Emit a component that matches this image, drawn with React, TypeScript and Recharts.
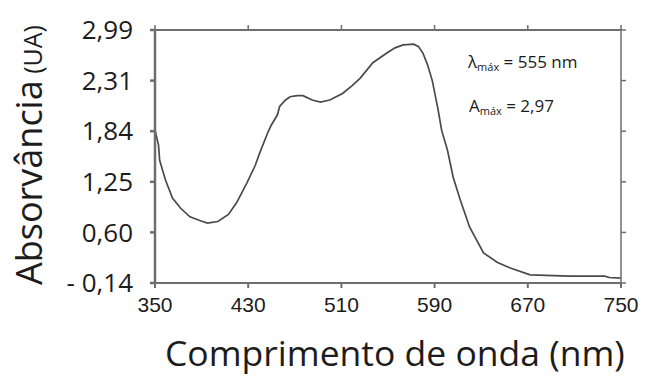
import React from 'react';
import { LineChart, Line, XAxis, YAxis, Customized } from 'recharts';

// Wavelength (nm) and absorbance (UA)
const wavelengthNm = [
  350, 353, 354, 359, 365, 372, 380, 389, 395, 404, 413, 420, 429, 436, 440, 447, 450,
  455, 457, 462, 466, 472, 477, 485, 492, 500, 511, 519, 526, 537, 549, 556, 563, 572,
  576, 580, 584, 588, 593, 596, 601, 606, 612, 620, 632, 644, 655, 672, 706, 736, 740, 750,
];
const absorbanceUA = [
  1.85, 1.68, 1.5, 1.27, 1.04, 0.91, 0.8, 0.75, 0.72, 0.74, 0.83, 0.98, 1.24, 1.44, 1.59, 1.83, 1.9,
  1.99, 2.07, 2.13, 2.16, 2.17, 2.17, 2.13, 2.11, 2.13, 2.19, 2.26, 2.34, 2.55, 2.68, 2.75, 2.79, 2.8,
  2.77, 2.68, 2.52, 2.31, 2.04, 1.85, 1.62, 1.3, 1.02, 0.67, 0.3, 0.16, 0.08, -0.02, -0.04, -0.04, -0.06, -0.07,
];

const xTickValues = [350, 430, 510, 590, 670, 750];
// The printed absorbance axis has evenly spaced ticks carrying these values
const yTickValues = [-0.14, 0.6, 1.25, 1.84, 2.31, 2.99];
const yTickLabels = ['- 0,14', '0,60', '1,25', '1,84', '2,31', '2,99'];
const yTickSlots = [0, 1, 2, 3, 4, 5];

// map an absorbance value onto the (piecewise) printed axis
function toAxis(v: number): number {
  for (let i = 0; i < yTickValues.length - 1; i++) {
    const a = yTickValues[i];
    const b = yTickValues[i + 1];
    if (v <= b || i === yTickValues.length - 2) {
      return i + (v - a) / (b - a);
    }
  }
  return 0;
}

const data = wavelengthNm.map((w, i) => ({ w, a: toAxis(absorbanceUA[i]) }));

const frame = '#6e6e6e';
const textColor = '#1c1c1c';
const titleFont = "'Open Sans', 'Noto Sans', sans-serif";
const tickFontX = "'Liberation Sans Narrow', 'Liberation Sans', Arial, sans-serif";

const Titles = () => (
  <g>
    <text
      transform="translate(42,285) rotate(-90)"
      fontFamily={titleFont}
      fontSize={36}
      fill={textColor}
    >
      Absorvância<tspan fontSize={25}> (UA)</tspan>
    </text>
    <text x={165} y={366} fontFamily={titleFont} fontSize={35.5} fill={textColor}>
      Comprimento de onda (nm)
    </text>
    <text x={468} y={68} fontFamily={titleFont} fontSize={17} fill={textColor}>
      λ<tspan fontSize={11} dy={3}>máx</tspan>
      <tspan dy={-3}> = 555 nm</tspan>
    </text>
    <text x={469} y={112} fontFamily={titleFont} fontSize={17} fill={textColor}>
      A<tspan fontSize={11} dy={3}>máx</tspan>
      <tspan dy={-3}> = 2,97</tspan>
    </text>
  </g>
);

const NoLabel = () => <g />;

export default function App() {
  return (
    <div style={{ position: 'absolute', left: 0, top: 0, background: '#fff' }}>
      <LineChart
        width={659}
        height={376}
        data={data}
        margin={{ top: 20, right: 0, bottom: 0, left: 0 }}
      >
        <XAxis
          xAxisId="b"
          dataKey="w"
          type="number"
          domain={[350, 750]}
          ticks={xTickValues}
          allowDataOverflow
          height={93}
          tickSize={5}
          tickMargin={9}
          axisLine={{ stroke: frame, strokeWidth: 2 }}
          tickLine={{ stroke: frame, strokeWidth: 2 }}
          tick={{ fill: textColor, fontSize: 21, fontFamily: tickFontX }}
        />
        <XAxis
          xAxisId="t"
          orientation="top"
          dataKey="w"
          type="number"
          domain={[350, 750]}
          ticks={xTickValues}
          allowDataOverflow
          height={10}
          tickSize={5}
          axisLine={{ stroke: frame, strokeWidth: 2 }}
          tickLine={{ stroke: frame, strokeWidth: 1.5 }}
          tick={NoLabel}
        />
        <YAxis
          yAxisId="l"
          type="number"
          domain={[0, 5]}
          ticks={yTickSlots}
          allowDataOverflow
          width={155}
          tickSize={5}
          tickMargin={17}
          tickFormatter={(v: number) => yTickLabels[v]}
          axisLine={{ stroke: frame, strokeWidth: 2.5 }}
          tickLine={{ stroke: frame, strokeWidth: 2.5 }}
          tick={{ fill: textColor, fontSize: 26, fontFamily: titleFont }}
        />
        <YAxis
          yAxisId="r"
          orientation="right"
          type="number"
          domain={[0, 5]}
          ticks={yTickSlots}
          allowDataOverflow
          width={38}
          tickSize={5}
          axisLine={{ stroke: frame, strokeWidth: 1.5 }}
          tickLine={{ stroke: frame, strokeWidth: 1.5 }}
          tick={NoLabel}
        />
        <Line
          xAxisId="t"
          yAxisId="r"
          type="linear"
          dataKey="a"
          stroke="none"
          strokeWidth={0}
          dot={false}
          activeDot={false}
          legendType="none"
          isAnimationActive={false}
        />
        <Line
          xAxisId="b"
          yAxisId="l"
          type="linear"
          dataKey="a"
          stroke="#4a4a4a"
          strokeWidth={1.7}
          dot={false}
          isAnimationActive={false}
        />
        <Customized component={Titles} />
      </LineChart>
    </div>
  );
}
